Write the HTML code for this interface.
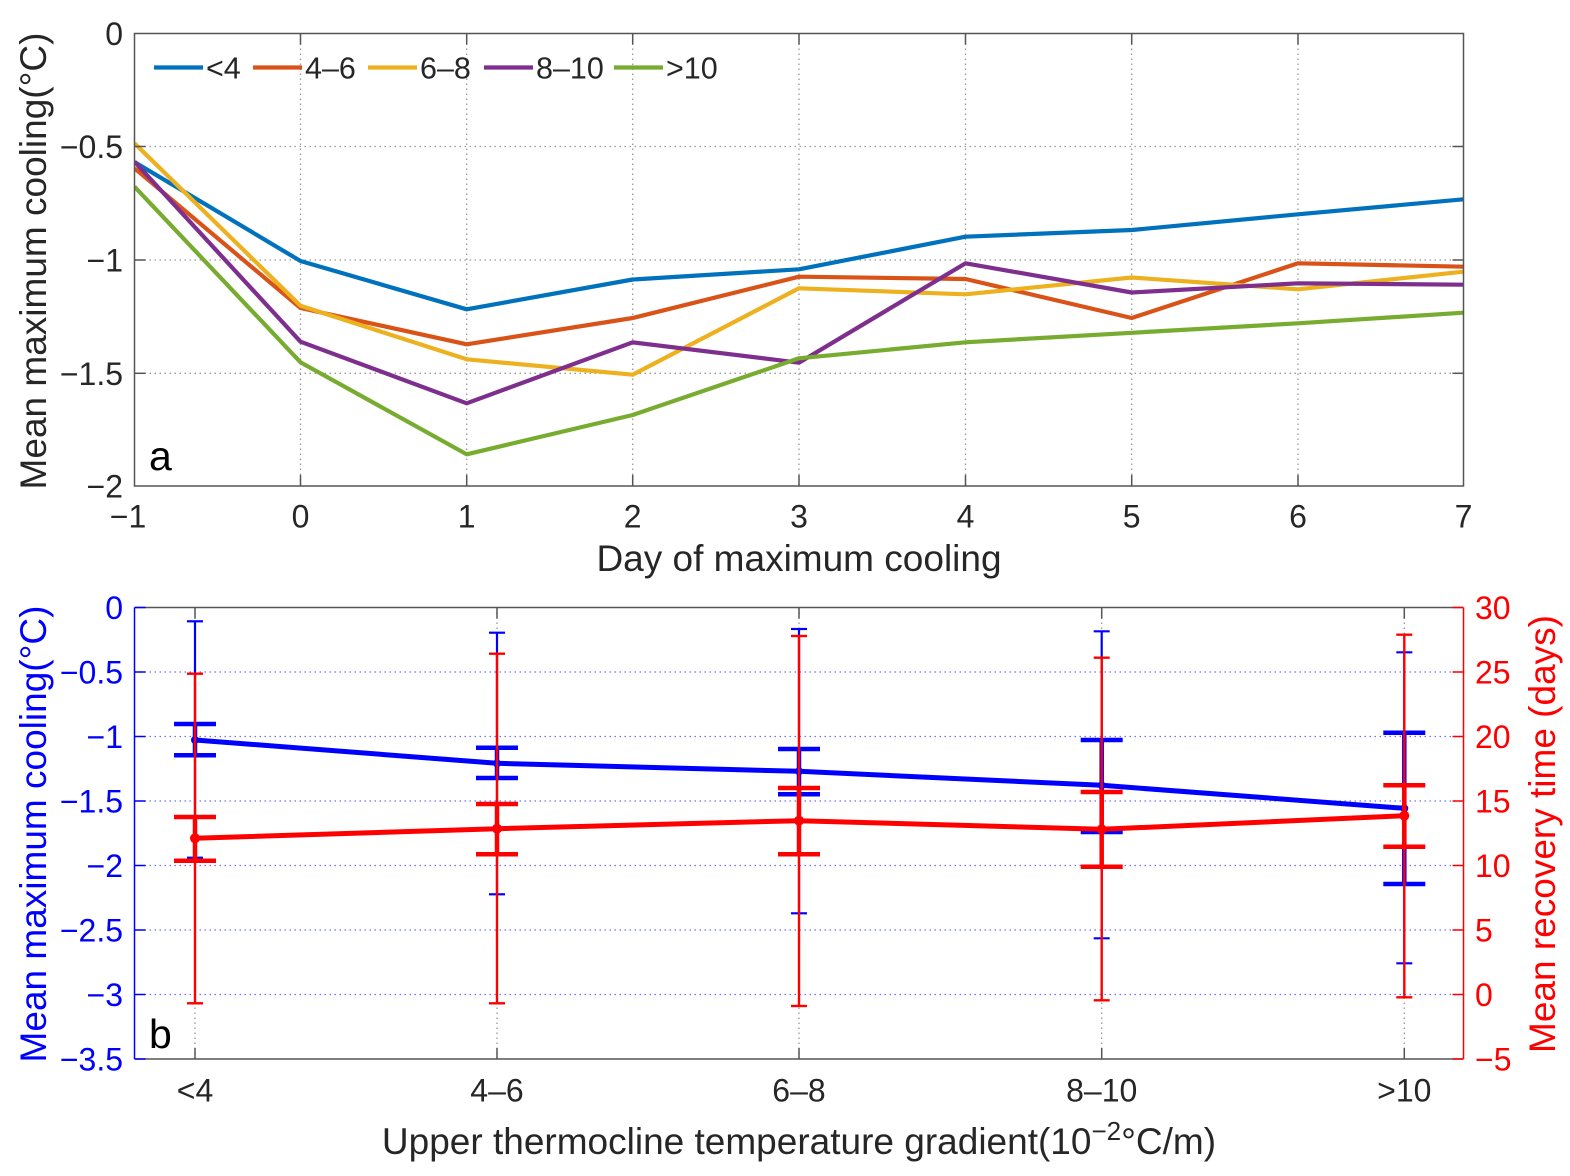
<!DOCTYPE html>
<html><head><meta charset="utf-8"><style>
html,body{margin:0;padding:0;background:#fff;}
svg{display:block;}
text{font-family:"Liberation Sans",Arial,sans-serif;}
</style></head><body>
<svg width="1570" height="1176" viewBox="0 0 1570 1176" xmlns="http://www.w3.org/2000/svg">
<rect width="1570" height="1176" fill="#fff"/>
<defs>
<clipPath id="ca"><rect x="134.5" y="33.5" width="1329" height="452.5"/></clipPath>
</defs>

<!-- ===== Panel a ===== -->
<g stroke="#999" stroke-width="1.3" stroke-dasharray="1.5 3.5" fill="none">
<line x1="134.5" y1="146.5" x2="1463.5" y2="146.5"/>
<line x1="134.5" y1="260" x2="1463.5" y2="260"/>
<line x1="134.5" y1="373.3" x2="1463.5" y2="373.3"/>
<line x1="300.5" y1="33.5" x2="300.5" y2="486"/>
<line x1="466.7" y1="33.5" x2="466.7" y2="486"/>
<line x1="632.7" y1="33.5" x2="632.7" y2="486"/>
<line x1="799" y1="33.5" x2="799" y2="486"/>
<line x1="965.5" y1="33.5" x2="965.5" y2="486"/>
<line x1="1131.7" y1="33.5" x2="1131.7" y2="486"/>
<line x1="1298" y1="33.5" x2="1298" y2="486"/>
</g>

<g clip-path="url(#ca)" fill="none" stroke-width="4.2" stroke-linejoin="round">
<polyline stroke="#0072BD" points="134.5,162 300.5,261 466.7,309.3 632.7,279.5 799,269.3 965.5,236.7 1131.7,230 1298,214.3 1463.5,199.3"/>
<polyline stroke="#D95319" points="134.5,168.3 300.5,308 466.7,344.3 632.7,318 799,276.7 965.5,279 1131.7,318 1298,263.3 1463.5,266.7"/>
<polyline stroke="#EDB120" points="134.5,143.3 300.5,305.7 466.7,359.3 632.7,374.7 799,288.3 965.5,294.3 1131.7,277.5 1298,289.3 1463.5,271.7"/>
<polyline stroke="#7E2F8E" points="134.5,161.7 300.5,341.7 466.7,403.3 632.7,342.3 799,362.7 965.5,263.3 1131.7,292.5 1298,283.3 1463.5,284.7"/>
<polyline stroke="#77AC30" points="134.5,186.7 300.5,362.3 466.7,454.3 632.7,415 799,358.3 965.5,342.3 1131.7,332.8 1298,323.3 1463.5,312.7"/>
</g>

<!-- axes box a -->
<rect x="134.5" y="33.5" width="1329" height="452.5" fill="none" stroke="#555" stroke-width="1.5"/>
<g stroke="#555" stroke-width="1.5">
<line x1="300.5" y1="486" x2="300.5" y2="475"/><line x1="300.5" y1="33.5" x2="300.5" y2="44.5"/>
<line x1="466.7" y1="486" x2="466.7" y2="475"/><line x1="466.7" y1="33.5" x2="466.7" y2="44.5"/>
<line x1="632.7" y1="486" x2="632.7" y2="475"/><line x1="632.7" y1="33.5" x2="632.7" y2="44.5"/>
<line x1="799" y1="486" x2="799" y2="475"/><line x1="799" y1="33.5" x2="799" y2="44.5"/>
<line x1="965.5" y1="486" x2="965.5" y2="475"/><line x1="965.5" y1="33.5" x2="965.5" y2="44.5"/>
<line x1="1131.7" y1="486" x2="1131.7" y2="475"/><line x1="1131.7" y1="33.5" x2="1131.7" y2="44.5"/>
<line x1="1298" y1="486" x2="1298" y2="475"/><line x1="1298" y1="33.5" x2="1298" y2="44.5"/>
<line x1="134.5" y1="146.5" x2="145.5" y2="146.5"/><line x1="1463.5" y1="146.5" x2="1452.5" y2="146.5"/>
<line x1="134.5" y1="260" x2="145.5" y2="260"/><line x1="1463.5" y1="260" x2="1452.5" y2="260"/>
<line x1="134.5" y1="373.3" x2="145.5" y2="373.3"/><line x1="1463.5" y1="373.3" x2="1452.5" y2="373.3"/>
</g>

<!-- legend -->
<g stroke-width="4.2">
<line x1="154" y1="67.5" x2="203" y2="67.5" stroke="#0072BD"/>
<line x1="253" y1="67.5" x2="302" y2="67.5" stroke="#D95319"/>
<line x1="368" y1="67.5" x2="417" y2="67.5" stroke="#EDB120"/>
<line x1="484" y1="67.5" x2="533" y2="67.5" stroke="#7E2F8E"/>
<line x1="614" y1="67.5" x2="663" y2="67.5" stroke="#77AC30"/>
</g>
<g font-size="30.5" fill="#262626">
<text x="206" y="78.5">&lt;4</text>
<text x="305" y="78.5">4–6</text>
<text x="420" y="78.5">6–8</text>
<text x="536" y="78.5">8–10</text>
<text x="666" y="78.5">&gt;10</text>
</g>

<!-- tick labels a -->
<g font-size="32" fill="#262626" text-anchor="end">
<text x="123" y="45">0</text>
<text x="123" y="158">−0.5</text>
<text x="123" y="271.5">−1</text>
<text x="123" y="385">−1.5</text>
<text x="123" y="497.5">−2</text>
</g>
<g font-size="32" fill="#262626" text-anchor="middle">
<text x="128" y="527.5">−1</text>
<text x="300.5" y="527.5">0</text>
<text x="466.7" y="527.5">1</text>
<text x="632.7" y="527.5">2</text>
<text x="799" y="527.5">3</text>
<text x="965.5" y="527.5">4</text>
<text x="1131.7" y="527.5">5</text>
<text x="1298" y="527.5">6</text>
<text x="1463.5" y="527.5">7</text>
</g>
<text x="799" y="571" font-size="37" fill="#262626" text-anchor="middle">Day of maximum cooling</text>
<text transform="translate(46,261) rotate(-90)" font-size="37" fill="#262626" text-anchor="middle">Mean maximum cooling(°C)</text>
<text x="149" y="470" font-size="41" fill="#000">a</text>

<!-- ===== Panel b ===== -->
<g stroke="#6f6fff" stroke-width="1.3" stroke-dasharray="1.5 3.5" fill="none">
<line x1="134.5" y1="672" x2="1463.5" y2="672"/>
<line x1="134.5" y1="736.5" x2="1463.5" y2="736.5"/>
<line x1="134.5" y1="801" x2="1463.5" y2="801"/>
<line x1="134.5" y1="865.5" x2="1463.5" y2="865.5"/>
<line x1="134.5" y1="930" x2="1463.5" y2="930"/>
<line x1="134.5" y1="994.5" x2="1463.5" y2="994.5"/>
</g>
<g stroke="#999" stroke-width="1.3" stroke-dasharray="1.5 3.5" fill="none">
<line x1="195" y1="607.5" x2="195" y2="1059"/>
<line x1="497" y1="607.5" x2="497" y2="1059"/>
<line x1="799" y1="607.5" x2="799" y2="1059"/>
<line x1="1101.7" y1="607.5" x2="1101.7" y2="1059"/>
<line x1="1404.3" y1="607.5" x2="1404.3" y2="1059"/>
</g>

<!-- blue error bars -->
<g stroke="#0000ff" fill="none">
<g stroke-width="2.2">
<line x1="195" y1="621.3" x2="195" y2="857.7"/><line x1="187" y1="621.3" x2="203" y2="621.3"/><line x1="187" y1="857.7" x2="203" y2="857.7"/>
<line x1="497" y1="632.7" x2="497" y2="894.3"/><line x1="489" y1="632.7" x2="505" y2="632.7"/><line x1="489" y1="894.3" x2="505" y2="894.3"/>
<line x1="799" y1="629" x2="799" y2="913.3"/><line x1="791" y1="629" x2="807" y2="629"/><line x1="791" y1="913.3" x2="807" y2="913.3"/>
<line x1="1101.7" y1="631.3" x2="1101.7" y2="938.3"/><line x1="1093.7" y1="631.3" x2="1109.7" y2="631.3"/><line x1="1093.7" y1="938.3" x2="1109.7" y2="938.3"/>
<line x1="1404.3" y1="652.3" x2="1404.3" y2="963.3"/><line x1="1396.3" y1="652.3" x2="1412.3" y2="652.3"/><line x1="1396.3" y1="963.3" x2="1412.3" y2="963.3"/>
</g>
<g stroke-width="4.5">
<line x1="195" y1="724" x2="195" y2="755.3"/><line x1="174" y1="724" x2="216" y2="724"/><line x1="174" y1="755.3" x2="216" y2="755.3"/>
<line x1="497" y1="747.7" x2="497" y2="778"/><line x1="476" y1="747.7" x2="518" y2="747.7"/><line x1="476" y1="778" x2="518" y2="778"/>
<line x1="799" y1="749" x2="799" y2="794.3"/><line x1="778" y1="749" x2="820" y2="749"/><line x1="778" y1="794.3" x2="820" y2="794.3"/>
<line x1="1101.7" y1="740" x2="1101.7" y2="832"/><line x1="1080.7" y1="740" x2="1122.7" y2="740"/><line x1="1080.7" y1="832" x2="1122.7" y2="832"/>
<line x1="1404.3" y1="732.7" x2="1404.3" y2="884"/><line x1="1383.3" y1="732.7" x2="1425.3" y2="732.7"/><line x1="1383.3" y1="884" x2="1425.3" y2="884"/>
</g>
<polyline stroke-width="5" stroke-linejoin="round" points="195,740 497,763.3 799,771.3 1101.7,785.3 1404.3,808.3"/>
</g>
<g fill="#0000ff">
<circle cx="195" cy="740" r="4"/><circle cx="497" cy="763.3" r="4"/><circle cx="799" cy="771.3" r="4"/><circle cx="1101.7" cy="785.3" r="4"/><circle cx="1404.3" cy="808.3" r="4"/>
</g>

<!-- red error bars -->
<g stroke="#ff0000" fill="none">
<g stroke-width="2.4">
<line x1="195" y1="673.7" x2="195" y2="1003.3"/><line x1="187" y1="673.7" x2="203" y2="673.7"/><line x1="187" y1="1003.3" x2="203" y2="1003.3"/>
<line x1="497" y1="653.7" x2="497" y2="1003.3"/><line x1="489" y1="653.7" x2="505" y2="653.7"/><line x1="489" y1="1003.3" x2="505" y2="1003.3"/>
<line x1="799" y1="636" x2="799" y2="1006"/><line x1="791" y1="636" x2="807" y2="636"/><line x1="791" y1="1006" x2="807" y2="1006"/>
<line x1="1101.7" y1="657.7" x2="1101.7" y2="1000.3"/><line x1="1093.7" y1="657.7" x2="1109.7" y2="657.7"/><line x1="1093.7" y1="1000.3" x2="1109.7" y2="1000.3"/>
<line x1="1404.3" y1="634.7" x2="1404.3" y2="997.3"/><line x1="1396.3" y1="634.7" x2="1412.3" y2="634.7"/><line x1="1396.3" y1="997.3" x2="1412.3" y2="997.3"/>
</g>
<g stroke-width="4.5">
<line x1="195" y1="817" x2="195" y2="860.7"/><line x1="174" y1="817" x2="216" y2="817"/><line x1="174" y1="860.7" x2="216" y2="860.7"/>
<line x1="497" y1="804" x2="497" y2="854.3"/><line x1="476" y1="804" x2="518" y2="804"/><line x1="476" y1="854.3" x2="518" y2="854.3"/>
<line x1="799" y1="788" x2="799" y2="854.3"/><line x1="778" y1="788" x2="820" y2="788"/><line x1="778" y1="854.3" x2="820" y2="854.3"/>
<line x1="1101.7" y1="792" x2="1101.7" y2="866.7"/><line x1="1080.7" y1="792" x2="1122.7" y2="792"/><line x1="1080.7" y1="866.7" x2="1122.7" y2="866.7"/>
<line x1="1404.3" y1="785.3" x2="1404.3" y2="846.7"/><line x1="1383.3" y1="785.3" x2="1425.3" y2="785.3"/><line x1="1383.3" y1="846.7" x2="1425.3" y2="846.7"/>
</g>
<polyline stroke-width="5" stroke-linejoin="round" points="195,838.3 497,828.7 799,820.7 1101.7,829.3 1404.3,815.7"/>
</g>
<g fill="#ff0000">
<circle cx="195" cy="838.3" r="5"/><circle cx="497" cy="828.7" r="5"/><circle cx="799" cy="820.7" r="5"/><circle cx="1101.7" cy="829.3" r="5"/><circle cx="1404.3" cy="815.7" r="5"/>
</g>

<!-- axes b -->
<g stroke-width="1.5">
<line x1="134.5" y1="607.5" x2="1463.5" y2="607.5" stroke="#555"/>
<line x1="134.5" y1="1059" x2="1463.5" y2="1059" stroke="#555"/>
<line x1="134.5" y1="607.5" x2="134.5" y2="1059" stroke="#0000ff"/>
<line x1="1463.5" y1="607.5" x2="1463.5" y2="1059" stroke="#ff0000"/>
</g>
<g stroke="#555" stroke-width="1.5">
<line x1="195" y1="607.5" x2="195" y2="618.5"/><line x1="195" y1="1059" x2="195" y2="1048"/>
<line x1="497" y1="607.5" x2="497" y2="618.5"/><line x1="497" y1="1059" x2="497" y2="1048"/>
<line x1="799" y1="607.5" x2="799" y2="618.5"/><line x1="799" y1="1059" x2="799" y2="1048"/>
<line x1="1101.7" y1="607.5" x2="1101.7" y2="618.5"/><line x1="1101.7" y1="1059" x2="1101.7" y2="1048"/>
<line x1="1404.3" y1="607.5" x2="1404.3" y2="618.5"/><line x1="1404.3" y1="1059" x2="1404.3" y2="1048"/>
</g>
<g stroke="#0000ff" stroke-width="1.5">
<line x1="134.5" y1="607.5" x2="145.5" y2="607.5"/>
<line x1="134.5" y1="672" x2="145.5" y2="672"/>
<line x1="134.5" y1="736.5" x2="145.5" y2="736.5"/>
<line x1="134.5" y1="801" x2="145.5" y2="801"/>
<line x1="134.5" y1="865.5" x2="145.5" y2="865.5"/>
<line x1="134.5" y1="930" x2="145.5" y2="930"/>
<line x1="134.5" y1="994.5" x2="145.5" y2="994.5"/>
<line x1="134.5" y1="1059" x2="145.5" y2="1059"/>
</g>
<g stroke="#ff0000" stroke-width="1.5">
<line x1="1463.5" y1="607.5" x2="1452.5" y2="607.5"/>
<line x1="1463.5" y1="672" x2="1452.5" y2="672"/>
<line x1="1463.5" y1="736.5" x2="1452.5" y2="736.5"/>
<line x1="1463.5" y1="801" x2="1452.5" y2="801"/>
<line x1="1463.5" y1="865.5" x2="1452.5" y2="865.5"/>
<line x1="1463.5" y1="930" x2="1452.5" y2="930"/>
<line x1="1463.5" y1="994.5" x2="1452.5" y2="994.5"/>
<line x1="1463.5" y1="1059" x2="1452.5" y2="1059"/>
</g>

<!-- tick labels b -->
<g font-size="32" fill="#0000ff" text-anchor="end">
<text x="123" y="619">0</text>
<text x="123" y="683.5">−0.5</text>
<text x="123" y="748">−1</text>
<text x="123" y="812.5">−1.5</text>
<text x="123" y="877">−2</text>
<text x="123" y="941.5">−2.5</text>
<text x="123" y="1006">−3</text>
<text x="123" y="1070.5">−3.5</text>
</g>
<g font-size="32" fill="#ff0000" text-anchor="start">
<text x="1475" y="619">30</text>
<text x="1475" y="683.5">25</text>
<text x="1475" y="748">20</text>
<text x="1475" y="812.5">15</text>
<text x="1475" y="877">10</text>
<text x="1475" y="941.5">5</text>
<text x="1475" y="1006">0</text>
<text x="1475" y="1070.5">−5</text>
</g>
<g font-size="32" fill="#262626" text-anchor="middle">
<text x="195" y="1101.5">&lt;4</text>
<text x="497" y="1101.5">4–6</text>
<text x="799" y="1101.5">6–8</text>
<text x="1101.7" y="1101.5">8–10</text>
<text x="1404.3" y="1101.5">&gt;10</text>
</g>
<text x="799" y="1154" font-size="37" fill="#262626" text-anchor="middle">Upper thermocline temperature gradient(10<tspan font-size="26" dy="-14">−2</tspan><tspan dy="14">°C/m)</tspan></text>
<text transform="translate(46,834) rotate(-90)" font-size="37" fill="#0000ff" text-anchor="middle">Mean maximum cooling(°C)</text>
<text transform="translate(1555,834) rotate(-90)" font-size="37" fill="#ff0000" text-anchor="middle">Mean recovery time (days)</text>
<text x="149" y="1048" font-size="41" fill="#000">b</text>
</svg>
</body></html>
